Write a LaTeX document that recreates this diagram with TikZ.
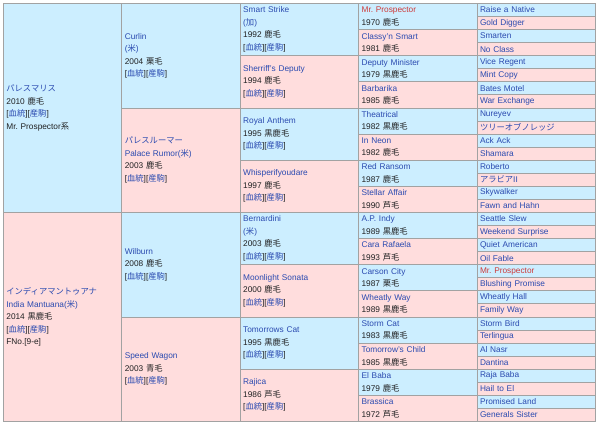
\documentclass[tikz,border=0pt]{standalone}
\usepackage{fontspec}
\setmainfont{Liberation Sans}
\newfontfamily\jpfont{Noto Sans CJK JP}
\frenchspacing
\definecolor{Ink}{HTML}{202122}
\definecolor{Rule}{HTML}{A2A2A2}
\definecolor{Sire}{HTML}{CCEEFF}
\definecolor{Dam}{HTML}{FFDDDD}
\definecolor{Link}{HTML}{2A4AB0}
\definecolor{Inbred}{HTML}{CC3B3B}
\newcommand{\jtxt}[1]{{\jpfont #1}}
\newcommand{\lk}[1]{\textcolor{Link}{#1}}
\newcommand{\inb}[1]{\textcolor{Inbred}{#1}}
\newcommand{\kt}{[\lk{\jtxt{血統}}][\lk{\jtxt{産駒}}]}
\tikzset{
  cell/.style={draw=Rule,line width=0.8pt,anchor=north west,inner xsep=3pt,inner ysep=0pt,
    minimum width=118.4pt,text width=112.4pt,align=left,text=Ink,font=\fontsize{8.3}{12.5}\selectfont},
  sire/.style={cell,fill=Sire},
  dam/.style={cell,fill=Dam},
  gen1/.style={minimum height=209pt},
  gen2/.style={minimum height=104.5pt},
  gen3/.style={minimum height=52.25pt},
  gen4/.style={minimum height=26.125pt},
  gen5/.style={minimum height=13.0625pt}
}
\begin{document}
\begin{tikzpicture}[x=1pt,y=-1pt]
  \useasboundingbox (0,0) rectangle (600,424);
  % generation 1
  \node[sire,gen1] (palacemalice) at (3,3)
    {\lk{\jtxt{パレスマリス}}\\2010 \jtxt{鹿毛}\\\kt\\Mr. Prospector\jtxt{系}};
  \node[dam,gen1] (indiamantuana) at (3,212)
    {\lk{\jtxt{インディアマントゥアナ}}\\\lk{India Mantuana(\jtxt{米})}\\2014 \jtxt{黒鹿毛}\\\kt\\FNo.[9-e]};
  % generation 2
  \node[sire,gen2] (curlin) at (121.4,3)
    {\lk{Curlin}\\\lk{(\jtxt{米})}\\2004 \jtxt{栗毛}\\\kt};
  \node[dam,gen2] (palacerumor) at (121.4,107.5)
    {\lk{\jtxt{パレスルーマー}}\\\lk{Palace Rumor(\jtxt{米})}\\2003 \jtxt{鹿毛}\\\kt};
  \node[sire,gen2] (wilburn) at (121.4,212)
    {\lk{Wilburn}\\2008 \jtxt{鹿毛}\\\kt};
  \node[dam,gen2] (speedwagon) at (121.4,316.5)
    {\lk{Speed Wagon}\\2003 \jtxt{青毛}\\\kt};
  % generation 3
  \foreach \nm/\yr/\ct [count=\i] in {
      {Smart Strike\\(\jtxt{加})}/1992/鹿毛, Sherriff's Deputy/1994/鹿毛,
      Royal Anthem/1995/黒鹿毛, Whisperifyoudare/1997/鹿毛,
      {Bernardini\\(\jtxt{米})}/2003/鹿毛, Moonlight Sonata/2000/鹿毛,
      Tomorrows Cat/1995/黒鹿毛, Rajica/1986/芦毛} {
    \ifodd\i\relax\def\sx{sire}\else\def\sx{dam}\fi
    \node[\sx,gen3] (g3-\i) at (239.8,{3+(\i-1)*52.25}) {\lk{\nm}\\\yr\ \jtxt{\ct}\\\kt};
  }
  % generation 4
  \foreach \nm/\yr/\ct [count=\i] in {
      {\inb{Mr. Prospector}}/1970/鹿毛, Classy'n Smart/1981/鹿毛,
      Deputy Minister/1979/黒鹿毛, Barbarika/1985/鹿毛,
      Theatrical/1982/黒鹿毛, In Neon/1982/鹿毛,
      Red Ransom/1987/鹿毛, Stellar Affair/1990/芦毛,
      A.P. Indy/1989/黒鹿毛, Cara Rafaela/1993/芦毛,
      Carson City/1987/栗毛, Wheatly Way/1989/黒鹿毛,
      Storm Cat/1983/黒鹿毛, Tomorrow's Child/1985/黒鹿毛,
      El Baba/1979/鹿毛, Brassica/1972/芦毛} {
    \ifodd\i\relax\def\sx{sire}\else\def\sx{dam}\fi
    \node[\sx,gen4] (g4-\i) at (358.2,{3+(\i-1)*26.125}) {\lk{\nm}\\\yr\ \jtxt{\ct}};
  }
  % generation 5
  \foreach \nm [count=\i] in {
      Raise a Native, Gold Digger, Smarten, No Class, Vice Regent, Mint Copy,
      Bates Motel, War Exchange, Nureyev, \jtxt{ツリーオブノレッジ}, Ack Ack, Shamara,
      Roberto, \jtxt{アラビア}II, Skywalker, Fawn and Hahn,
      Seattle Slew, Weekend Surprise, Quiet American, Oil Fable,
      \inb{Mr. Prospector}, Blushing Promise, Wheatly Hall, Family Way,
      Storm Bird, Terlingua, Al Nasr, Dantina,
      Raja Baba, Hail to El, Promised Land, Generals Sister} {
    \ifodd\i\relax\def\sx{sire}\else\def\sx{dam}\fi
    \node[\sx,gen5] (g5-\i) at (476.6,{3+(\i-1)*13.0625}) {\lk{\nm}};
  }
\end{tikzpicture}
\end{document}
